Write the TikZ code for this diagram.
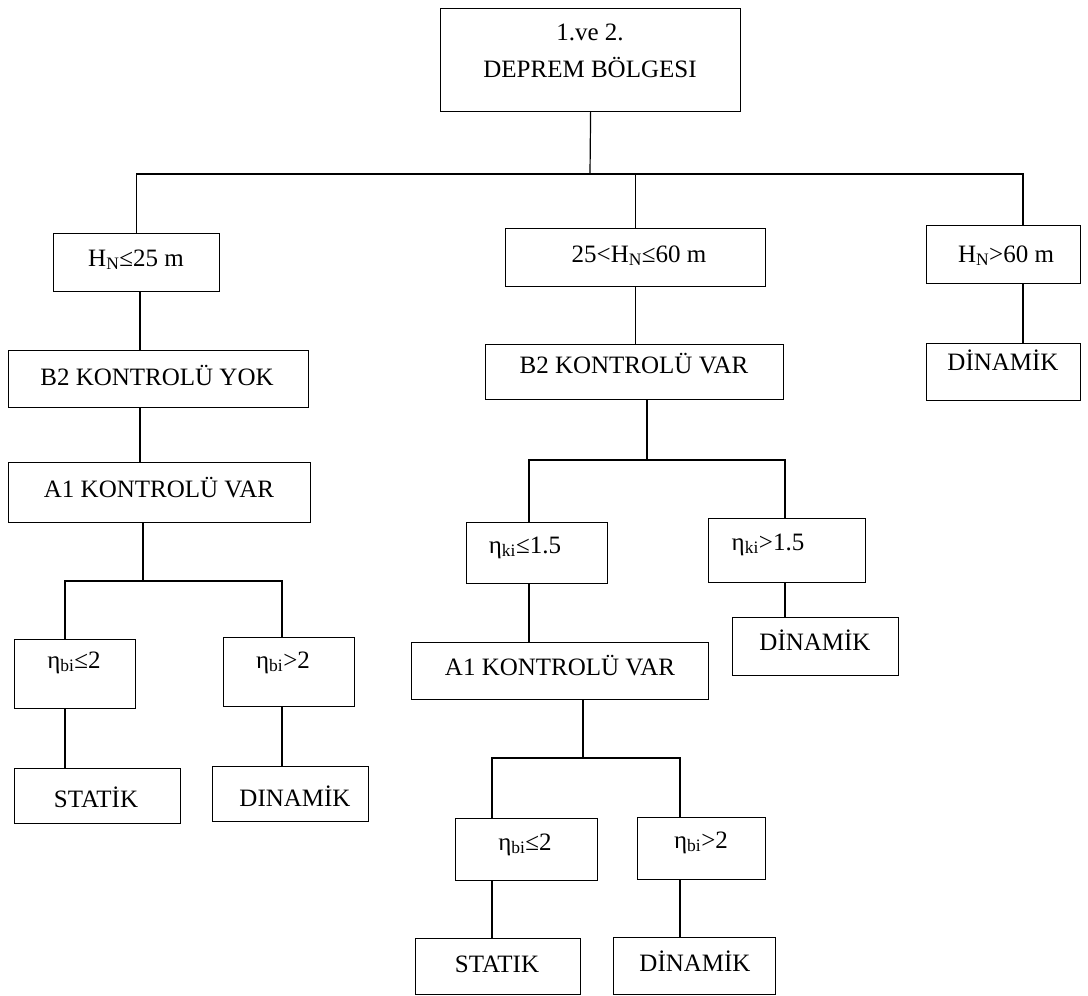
\documentclass[tikz,border=0pt]{standalone}
\usepackage{fontspec}
\setmainfont{Liberation Serif}
\begin{document}
\begin{tikzpicture}[x=1pt,y=-1pt,
  box/.style={draw, line width=1.2pt, inner sep=0pt, anchor=north west},
  lbl/.style={anchor=base, inner sep=0pt, font=\fontsize{25}{30}\selectfont},
  conn/.style={line width=1.2pt}]
\useasboundingbox (0,0) rectangle (1088,996);
% boxes
\node[box, minimum width=300, minimum height=103] (top) at (440,8) {};
\node[box, minimum width=166, minimum height=58] (hn25) at (53,233) {};
\node[box, minimum width=260, minimum height=58] (hn2560) at (505,228) {};
\node[box, minimum width=154, minimum height=58] (hn60) at (926,225) {};
\node[box, minimum width=300, minimum height=57] (b2yok) at (8,350) {};
\node[box, minimum width=302, minimum height=60] (a1l) at (8,462) {};
\node[box, minimum width=121, minimum height=69] (eb1) at (14,639) {};
\node[box, minimum width=131, minimum height=69] (eb2) at (223,637) {};
\node[box, minimum width=166, minimum height=55] (st1) at (14,768) {};
\node[box, minimum width=156, minimum height=55] (dn1) at (212,766) {};
\node[box, minimum width=298, minimum height=55] (b2var) at (485,344) {};
\node[box, minimum width=154, minimum height=57] (dn60) at (926,343) {};
\node[box, minimum width=141, minimum height=61] (ek1) at (466,522) {};
\node[box, minimum width=157, minimum height=64] (ek2) at (708,518) {};
\node[box, minimum width=166, minimum height=58] (dn2) at (732,617) {};
\node[box, minimum width=297, minimum height=57] (a1m) at (411,642) {};
\node[box, minimum width=142, minimum height=62] (eb3) at (455,818) {};
\node[box, minimum width=128, minimum height=62] (eb4) at (637,817) {};
\node[box, minimum width=165, minimum height=56] (st2) at (415,938) {};
\node[box, minimum width=162, minimum height=57] (dn3) at (613,937) {};
% labels
\node[lbl] (top-t1) at (590,40) {1.ve 2.};
\node[lbl] (top-t2) at (590,77) {DEPREM BÖLGESI};
\node[lbl] (hn25-t) at (136,266) {H\textsubscript{N}≤25 m};
\node[lbl] (hn2560-t) at (639,262) {25<H\textsubscript{N}≤60 m};
\node[lbl] (hn60-t) at (1006,262) {H\textsubscript{N}>60 m};
\node[lbl] (b2yok-t) at (157,385) {B2 KONTROLÜ YOK};
\node[lbl] (a1l-t) at (159,497) {A1 KONTROLÜ VAR};
\node[lbl] (eb1-t) at (74,668) {η\textsubscript{bi}≤2};
\node[lbl] (eb2-t) at (283,668) {η\textsubscript{bi}>2};
\node[lbl] (st1-t) at (96,807) {STATİK};
\node[lbl] (dn1-t) at (295,806) {DINAMİK};
\node[lbl] (b2var-t) at (634,373) {B2 KONTROLÜ VAR};
\node[lbl] (dn60-t) at (1003,370) {DİNAMİK};
\node[lbl] (ek1-t) at (525,553) {η\textsubscript{ki}≤1.5};
\node[lbl] (ek2-t) at (768,550) {η\textsubscript{ki}>1.5};
\node[lbl] (dn2-t) at (815,650) {DİNAMİK};
\node[lbl] (a1m-t) at (560,675) {A1 KONTROLÜ VAR};
\node[lbl] (eb3-t) at (525,850) {η\textsubscript{bi}≤2};
\node[lbl] (eb4-t) at (701,848) {η\textsubscript{bi}>2};
\node[lbl] (st2-t) at (497,972) {STATIK};
\node[lbl] (dn3-t) at (695,971) {DİNAMİK};
% junctions and column coordinates
\coordinate (j0) at (590,174);
\coordinate (cL) at (140,0);
\coordinate (jL) at (143,581);
\coordinate (xa) at (65,0);
\coordinate (xb) at (282,0);
\coordinate (xr) at (1023,0);
\coordinate (jM) at (647,460);
\coordinate (xc) at (529,0);
\coordinate (xd) at (785,0);
\coordinate (jM2) at (583,758);
\coordinate (xe) at (492,0);
\coordinate (xf) at (680,0);
% connectors
\draw[conn] (top.south) -- (j0);
\draw[conn] (hn25.north) |- (j0) -| (hn60.north -| xr);
\draw[conn] (hn2560.north) -- (hn2560.north |- j0);
\draw[conn] (hn60.south -| xr) -- (dn60.north -| xr);
\draw[conn] (hn25.south -| cL) -- (b2yok.north -| cL);
\draw[conn] (b2yok.south -| cL) -- (a1l.north -| cL);
\draw[conn] (a1l.south -| jL) -- (jL);
\draw[conn] (eb1.north -| xa) |- (jL) -| (eb2.north -| xb);
\draw[conn] (eb1.south -| xa) -- (st1.north -| xa);
\draw[conn] (eb2.south -| xb) -- (dn1.north -| xb);
\draw[conn] (hn2560.south) -- (hn2560.south |- b2var.north);
\draw[conn] (b2var.south -| jM) -- (jM);
\draw[conn] (ek1.north -| xc) |- (jM) -| (ek2.north -| xd);
\draw[conn] (ek1.south -| xc) -- (a1m.north -| xc);
\draw[conn] (ek2.south -| xd) -- (dn2.north -| xd);
\draw[conn] (a1m.south -| jM2) -- (jM2);
\draw[conn] (eb3.north -| xe) |- (jM2) -| (eb4.north -| xf);
\draw[conn] (eb3.south -| xe) -- (st2.north -| xe);
\draw[conn] (eb4.south -| xf) -- (dn3.north -| xf);
\end{tikzpicture}
\end{document}
